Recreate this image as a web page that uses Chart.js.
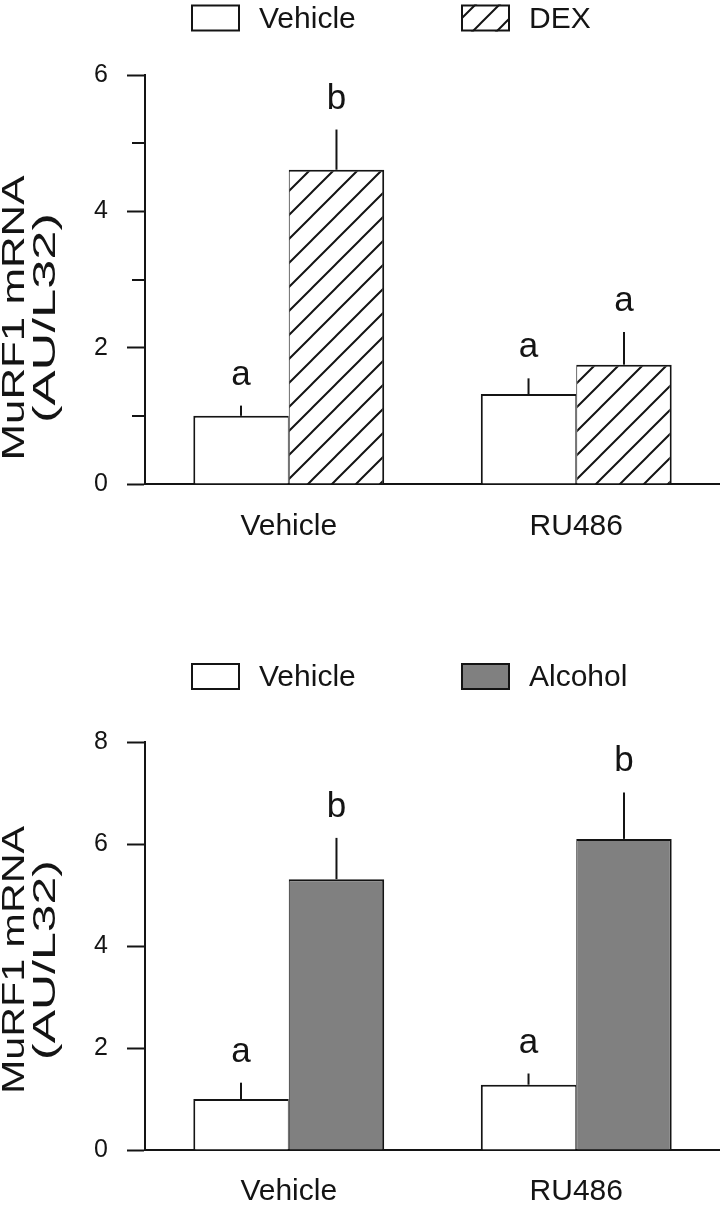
<!DOCTYPE html>
<html><head><meta charset="utf-8">
<script src="https://cdn.jsdelivr.net/npm/chart.js@4.4.1/dist/chart.umd.min.js"></script>
<style>
html,body{margin:0;padding:0;background:#fff;}
#w1{position:absolute;left:0;top:0;width:720px;height:600px;}
#w2{position:absolute;left:0;top:600px;width:720px;height:608px;}
canvas{display:block;}
</style></head><body>
<div id="w1"><canvas id="c1" width="720" height="600"></canvas></div>
<div id="w2"><canvas id="c2" width="720" height="608"></canvas></div>
<script>
// ---------- data ----------
const categories = ['Vehicle', 'RU486'];
const yTitleLines = ['MuRF1 mRNA', '(AU/L32)'];

// top panel (DEX)
const topSeriesNames = ['Vehicle', 'DEX'];
const topVehicle = [1.0, 1.32];
const topVehicleErr = [0.15, 0.23];
const topDex = [4.61, 1.75];
const topDexErr = [0.59, 0.48];
const topVehicleLetters = ['a', 'a'];
const topDexLetters = ['b', 'a'];
const topYMax = 6;
const topYMajorStep = 2;
const topYMinorTicks = [1, 3, 5];

// bottom panel (Alcohol)
const bottomSeriesNames = ['Vehicle', 'Alcohol'];
const bottomVehicle = [1.0, 1.28];
const bottomVehicleErr = [0.32, 0.22];
const bottomAlcohol = [5.31, 6.10];
const bottomAlcoholErr = [0.81, 0.91];
const bottomVehicleLetters = ['a', 'a'];
const bottomAlcoholLetters = ['b', 'b'];
const bottomYMax = 8;
const bottomYMajorStep = 2;
const bottomYMinorTicks = [];

// ---------- styling ----------
const INK = '#141414';
const FONT = "'Liberation Sans', Arial, Helvetica, sans-serif";
Chart.defaults.font.family = FONT;
Chart.defaults.color = INK;

function hatchPattern() {
  const s = 24;
  const c = document.createElement('canvas');
  c.width = s; c.height = s;
  const g = c.getContext('2d');
  g.fillStyle = '#ffffff';
  g.fillRect(0, 0, s, s);
  g.strokeStyle = INK;
  g.lineWidth = 2;
  g.beginPath();
  g.moveTo(-2, s + 2); g.lineTo(s + 2, -2);
  g.moveTo(-s/2 - 2, s/2 + 2); g.lineTo(s/2 + 2, -s/2 - 2);
  g.moveTo(s/2 - 2, s*1.5 + 2); g.lineTo(s*1.5 + 2, s/2 - 2);
  g.stroke();
  return g.createPattern(c, 'repeat');
}

// error bars + significance letters
const errorBarPlugin = {
  id: 'errorBars',
  afterDatasetsDraw(chart, args, opts) {
    const ctx = chart.ctx;
    const y = chart.scales.y;
    ctx.save();
    chart.data.datasets.forEach((ds, i) => {
      const meta = chart.getDatasetMeta(i);
      meta.data.forEach((bar, j) => {
        const v = ds.data[j];
        const top = y.getPixelForValue(v + ds.errors[j]);
        ctx.strokeStyle = INK;
        ctx.lineWidth = 2;
        ctx.beginPath();
        ctx.moveTo(bar.x, bar.y);
        ctx.lineTo(bar.x, top);
        ctx.stroke();
        ctx.fillStyle = INK;
        ctx.font = opts.letterSize + 'px ' + FONT;
        ctx.textAlign = 'center';
        ctx.textBaseline = 'alphabetic';
        ctx.fillText(ds.letters[j], bar.x, top - opts.letterGap);
      });
    });
    ctx.restore();
  }
};

// minor y ticks (shorter, unlabeled)
const minorTickPlugin = {
  id: 'minorTicks',
  afterDraw(chart, args, opts) {
    const y = chart.scales.y;
    const ctx = chart.ctx;
    ctx.save();
    ctx.strokeStyle = INK;
    ctx.lineWidth = 2;
    (opts.values || []).forEach(v => {
      const py = Math.round(y.getPixelForValue(v));
      ctx.beginPath();
      ctx.moveTo(y.right - opts.length, py);
      ctx.lineTo(y.right, py);
      ctx.stroke();
    });
    ctx.restore();
  }
};

// legend: boxes + labels
const boxLegendPlugin = {
  id: 'boxLegend',
  afterDraw(chart, args, opts) {
    const ctx = chart.ctx;
    ctx.save();
    chart.data.datasets.forEach((ds, i) => {
      const bx = opts.x[i];
      const by = opts.y;
      ctx.fillStyle = ds.backgroundColor;
      ctx.fillRect(bx, by, opts.boxW, opts.boxH);
      ctx.strokeStyle = INK;
      ctx.lineWidth = 2;
      ctx.strokeRect(bx + 1, by + 1, opts.boxW - 2, opts.boxH - 2);
      ctx.fillStyle = INK;
      ctx.font = opts.fontSize + 'px ' + FONT;
      ctx.textAlign = 'left';
      ctx.textBaseline = 'middle';
      ctx.fillText(ds.label, bx + opts.boxW + opts.gap, by + opts.boxH / 2 + 1.5);
    });
    ctx.restore();
  }
};

// rotated y-axis title (two lines, stretched along reading direction)
const yTitlePlugin = {
  id: 'yTitle',
  afterDraw(chart, args, opts) {
    const ctx = chart.ctx;
    ctx.save();
    ctx.fillStyle = INK;
    ctx.font = opts.fontSize + 'px ' + FONT;
    ctx.textAlign = 'center';
    ctx.textBaseline = 'middle';
    opts.lines.forEach((t, k) => {
      const w = ctx.measureText(t).width;
      const sx = opts.lengths[k] / w;
      ctx.save();
      ctx.translate(opts.cx[k], opts.cy);
      ctx.rotate(-Math.PI / 2);
      ctx.scale(sx, 1);
      ctx.fillText(t, 0, 0);
      ctx.restore();
    });
    ctx.restore();
  }
};

function makeChart(id, cfg) {
  const canvasH = document.getElementById(id).height;
  return new Chart(document.getElementById(id), {
    type: 'bar',
    data: {
      labels: categories,
      datasets: [
        {
          label: cfg.names[0], data: cfg.a, errors: cfg.aErr, letters: cfg.aLet,
          backgroundColor: '#ffffff', borderColor: INK,
          borderWidth: {top: 2, left: 2, right: 1, bottom: 0}
        },
        {
          label: cfg.names[1], data: cfg.b, errors: cfg.bErr, letters: cfg.bLet,
          backgroundColor: cfg.bFill, borderColor: INK,
          borderWidth: {top: 2, left: 1, right: 2, bottom: 0}
        }
      ]
    },
    options: {
      responsive: false,
      animation: false,
      events: [],
      layout: {padding: {top: cfg.plotTop, left: 0, right: 0, bottom: 0}},
      datasets: {bar: {categoryPercentage: 0.664, barPercentage: 1.0, inflateAmount: 0}},
      scales: {
        x: {
          type: 'category',
          grid: {display: false, drawTicks: false},
          border: {display: true, color: INK, width: 2},
          ticks: {font: {size: 30}, color: INK, padding: cfg.xPad},
          afterFit(s) { s.height = canvasH - cfg.plotBottom; }
        },
        y: {
          min: 0, max: cfg.yMax,
          grid: {display: true, drawOnChartArea: false, drawTicks: true, tickLength: 18, tickWidth: 2, tickColor: INK},
          border: {display: true, color: INK, width: 2},
          ticks: {stepSize: cfg.yStep, font: {size: 25}, color: INK, padding: 19},
          afterFit(s) { s.width = 145; }
        }
      },
      plugins: {
        legend: {display: false},
        tooltip: {enabled: false},
        errorBars: {letterSize: 35, letterGap: 21},
        minorTicks: {values: cfg.minor, length: 13},
        boxLegend: {x: [191, 461], y: cfg.legendY, boxW: 49, boxH: 27, gap: 19, fontSize: 30},
        yTitle: {lines: yTitleLines, fontSize: 32, cx: [15, 46], cy: cfg.titleCy, lengths: cfg.titleLen}
      }
    },
    plugins: [errorBarPlugin, minorTickPlugin, boxLegendPlugin, yTitlePlugin]
  });
}

makeChart('c1', {
  names: topSeriesNames, a: topVehicle, aErr: topVehicleErr, aLet: topVehicleLetters,
  b: topDex, bErr: topDexErr, bLet: topDexLetters, bFill: hatchPattern(),
  yMax: topYMax, yStep: topYMajorStep, minor: topYMinorTicks,
  plotTop: 75, plotBottom: 484, xPad: 25, legendY: 4.5, titleCy: 318, titleLen: [285, 210]
});

makeChart('c2', {
  names: bottomSeriesNames, a: bottomVehicle, aErr: bottomVehicleErr, aLet: bottomVehicleLetters,
  b: bottomAlcohol, bErr: bottomAlcoholErr, bLet: bottomAlcoholLetters, bFill: '#808080',
  yMax: bottomYMax, yStep: bottomYMajorStep, minor: bottomYMinorTicks,
  plotTop: 142, plotBottom: 550, xPad: 24, legendY: 63, titleCy: 360, titleLen: [268, 200]
});
</script>
</body></html>
